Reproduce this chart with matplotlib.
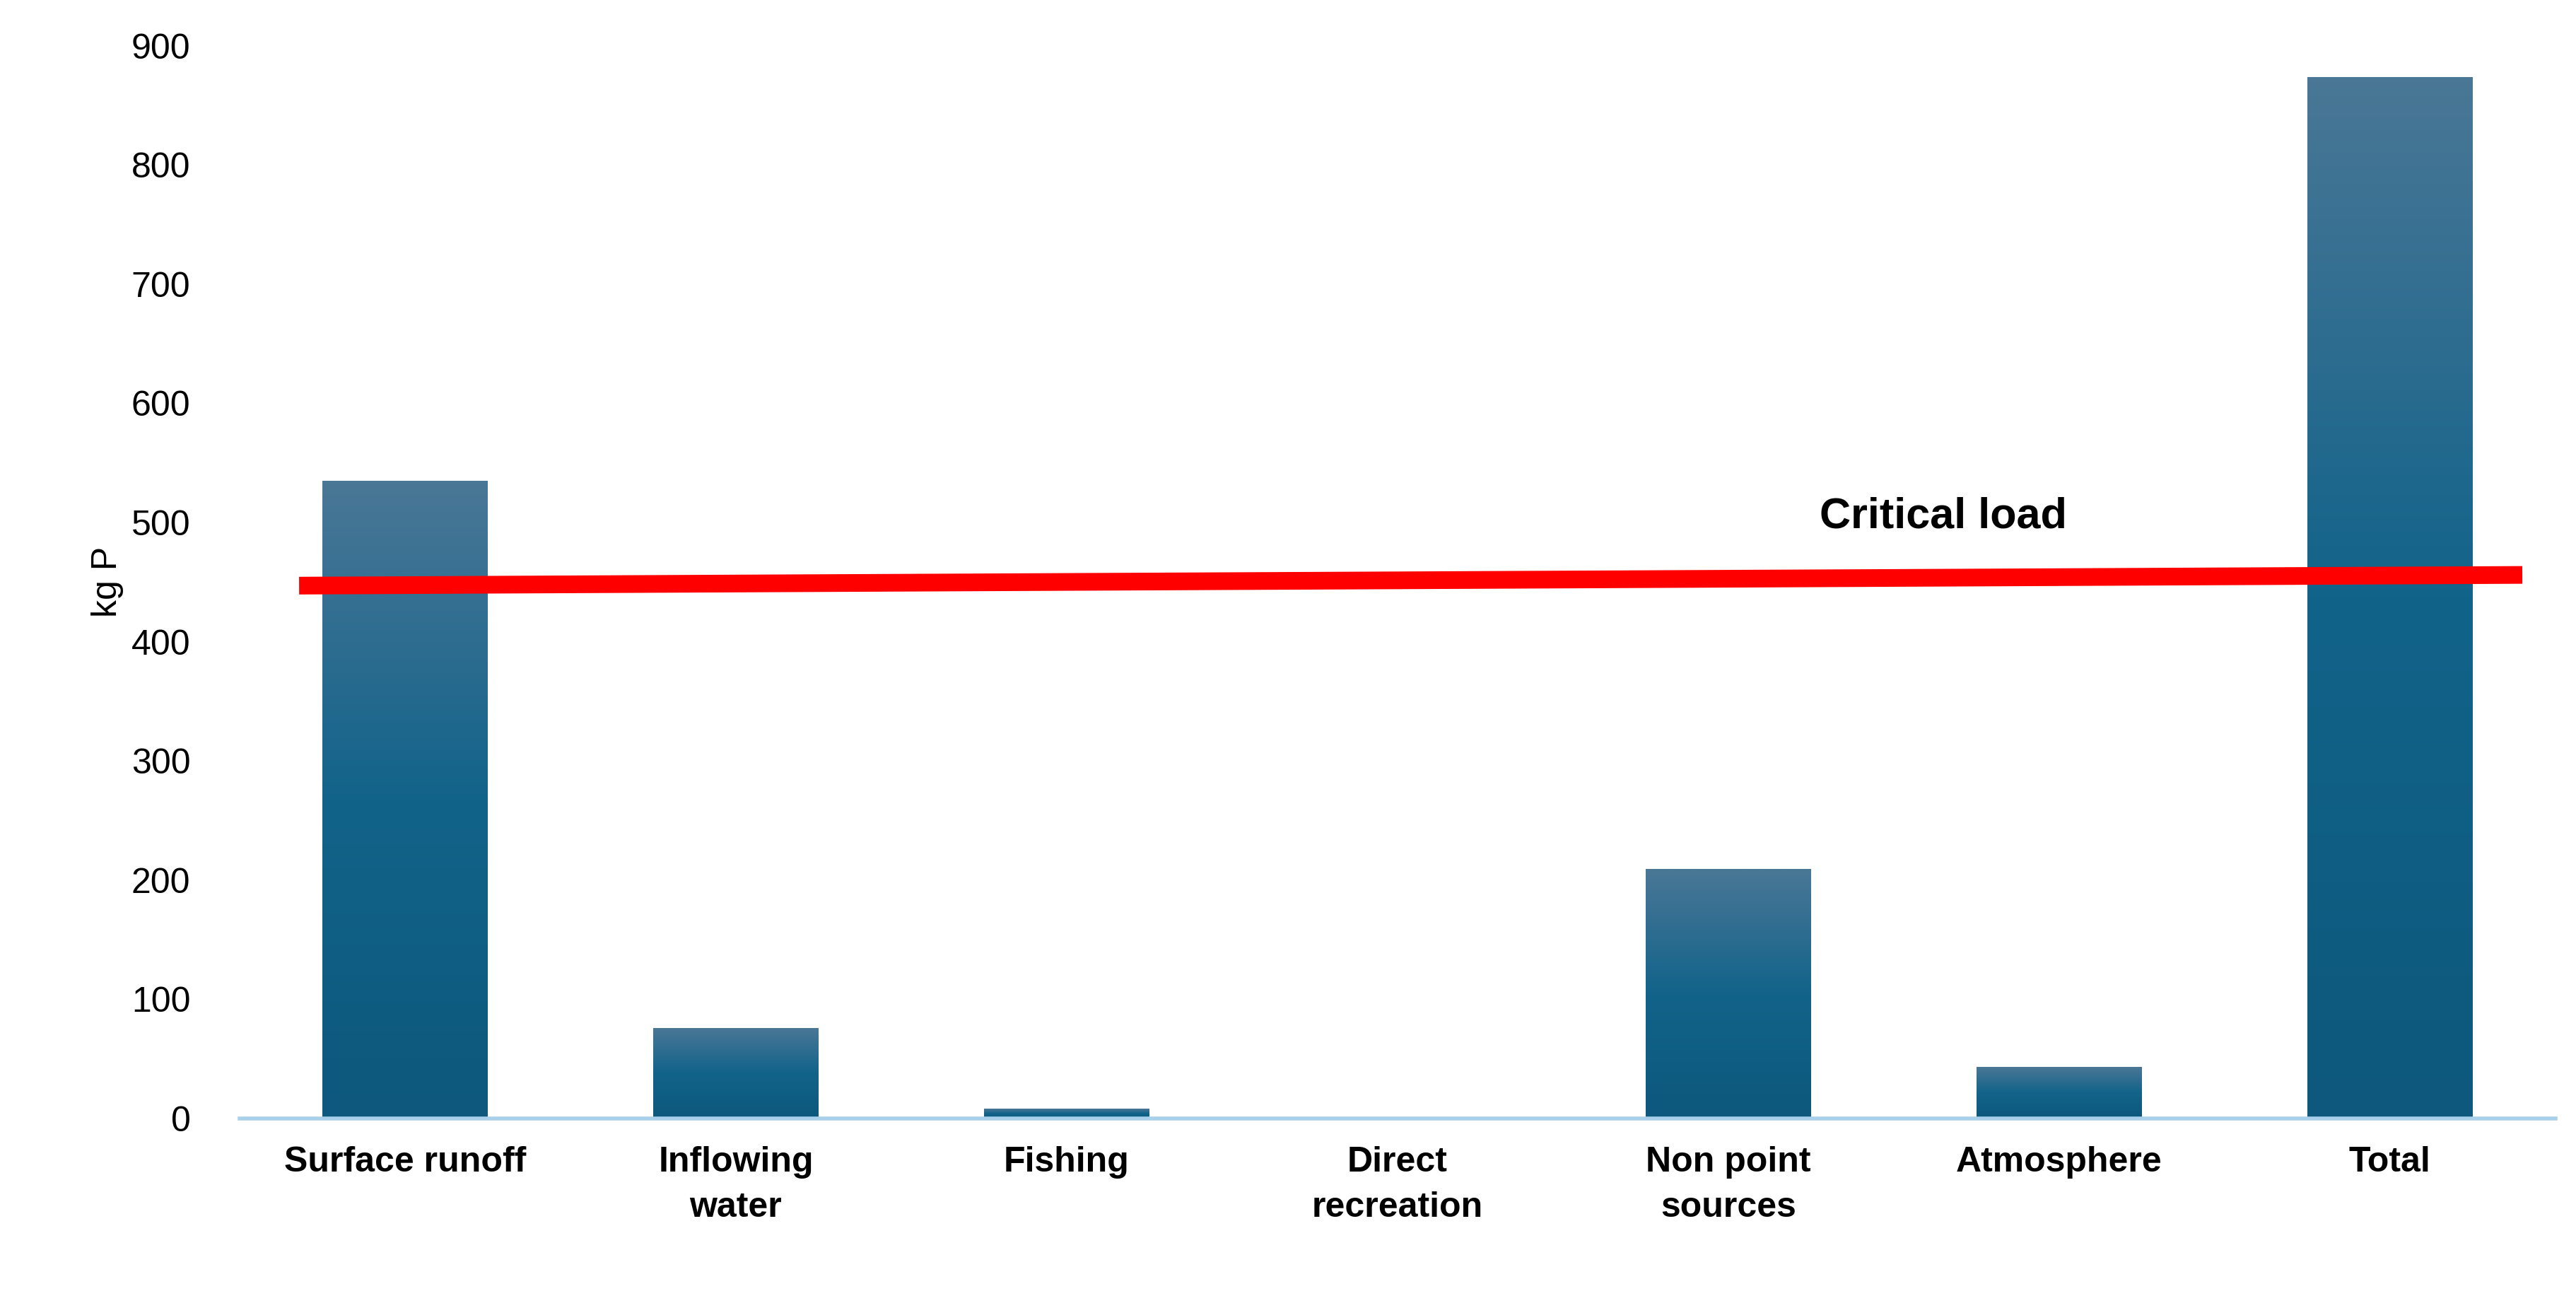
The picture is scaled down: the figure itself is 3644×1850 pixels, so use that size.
import numpy as np
import matplotlib.pyplot as plt
from matplotlib.colors import LinearSegmentedColormap

categories = ['Surface runoff', 'Inflowing\nwater', 'Fishing', 'Direct\nrecreation',
              'Non point\nsources', 'Atmosphere', 'Total']
values = [535, 76, 8, 0, 209, 43, 874]
critical_x = [-0.32, 6.4]
critical_y = [447, 456]

plt.rcParams['font.family'] = ['Liberation Sans', 'DejaVu Sans']
fig = plt.figure(figsize=(18.22, 9.25), dpi=200)
ax = fig.add_axes([0.093, 0.145, 0.899, 0.82])

x = np.arange(len(categories))
bars = ax.bar(x, values, width=0.5, color='#0e5a80')

# vertical gradient: lighter at top, darker lower down
cmap = LinearSegmentedColormap.from_list('g', ['#0d587c', '#12638a', '#4a7796'])
grad = np.linspace(0, 1, 256).reshape(-1, 1)
for b in bars:
    h = b.get_height()
    if h <= 0:
        continue
    x0 = b.get_x()
    im = ax.imshow(grad, extent=[x0, x0 + b.get_width(), 0, h], origin='lower',
                   aspect='auto', cmap=cmap, zorder=2)
    im.set_clip_path(b)

ax.plot(critical_x, critical_y, color='#ff0000', linewidth=9, solid_capstyle='butt', zorder=3)
ax.text(4.65, 505, 'Critical load', fontsize=22, fontweight='bold', ha='center', va='center')

ax.set_xlim(-0.5, 6.5)
ax.set_ylim(0, 900)
ax.set_yticks(range(0, 901, 100))
ax.set_xticks(x)
ax.set_xticklabels(categories, fontsize=18, fontweight='bold', linespacing=1.5)
ax.tick_params(axis='y', labelsize=18, length=0, pad=25)
ax.tick_params(axis='x', length=0, pad=14)
ax.set_ylabel('kg P', fontsize=18)
for s in ['top', 'right', 'left']:
    ax.spines[s].set_visible(False)
ax.spines['bottom'].set_color('#a8d0ea')
ax.spines['bottom'].set_linewidth(2)

fig.savefig('out.png')
